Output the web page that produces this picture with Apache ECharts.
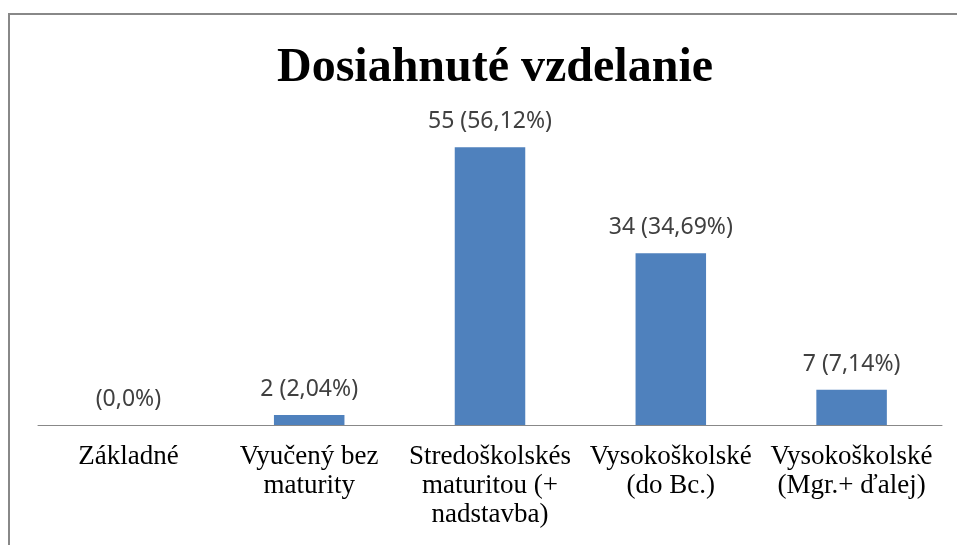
<!DOCTYPE html>
<html>
<head>
<meta charset="utf-8">
<script src="https://cdn.jsdelivr.net/npm/echarts@6/dist/echarts.min.js"></script>
<style>
  html, body { margin: 0; padding: 0; background: #fff; }
  #chart { width: 957px; height: 545px; }
</style>
</head>
<body>
<div id="chart"></div>
<script>
  var categories = [
    'Základné',
    'Vyučený bez\nmaturity',
    'Stredoškolskés\nmaturitou (+\nnadstavba)',
    'Vysokoškolské\n(do Bc.)',
    'Vysokoškolské\n(Mgr.+ ďalej)'
  ];
  var counts = [0, 2, 55, 34, 7];
  var percents = ['0,0', '2,04', '56,12', '34,69', '7,14'];

  var chart = echarts.init(document.getElementById('chart'));
  chart.setOption({
    animation: false,
    title: {
      text: 'Dosiahnuté vzdelanie',
      left: 490,
      textAlign: 'center',
      top: 40,
      textStyle: {
        fontFamily: 'Liberation Serif',
        fontWeight: 'bold',
        fontSize: 48,
        color: '#000'
      }
    },
    graphic: [{
      type: 'rect',
      shape: { x: 9, y: 14, width: 1000, height: 600 },
      style: { fill: 'none', stroke: '#888', lineWidth: 2 },
      silent: true
    }],
    grid: {
      left: 38,
      right: 15,
      top: 122,
      bottom: 120
    },
    xAxis: {
      type: 'category',
      data: categories,
      axisTick: { show: false },
      axisLine: { lineStyle: { color: '#888', width: 1 } },
      axisLabel: {
        interval: 0,
        margin: 17,
        fontFamily: 'Liberation Serif',
        fontSize: 27,
        lineHeight: 29,
        color: '#000'
      }
    },
    yAxis: {
      type: 'value',
      min: 0,
      max: 60,
      show: false,
      splitLine: { show: false }
    },
    series: [{
      type: 'bar',
      data: counts,
      barWidth: '39%',
      itemStyle: { color: '#4f81bd' },
      label: {
        show: true,
        position: 'top',
        distance: 14,
        fontFamily: 'Noto Sans',
        fontSize: 23,
        color: '#404040',
        formatter: function (p) {
          var pct = '(' + percents[p.dataIndex] + '%)';
          return p.value === 0 ? pct : p.value + ' ' + pct;
        }
      }
    }]
  });
</script>
</body>
</html>
